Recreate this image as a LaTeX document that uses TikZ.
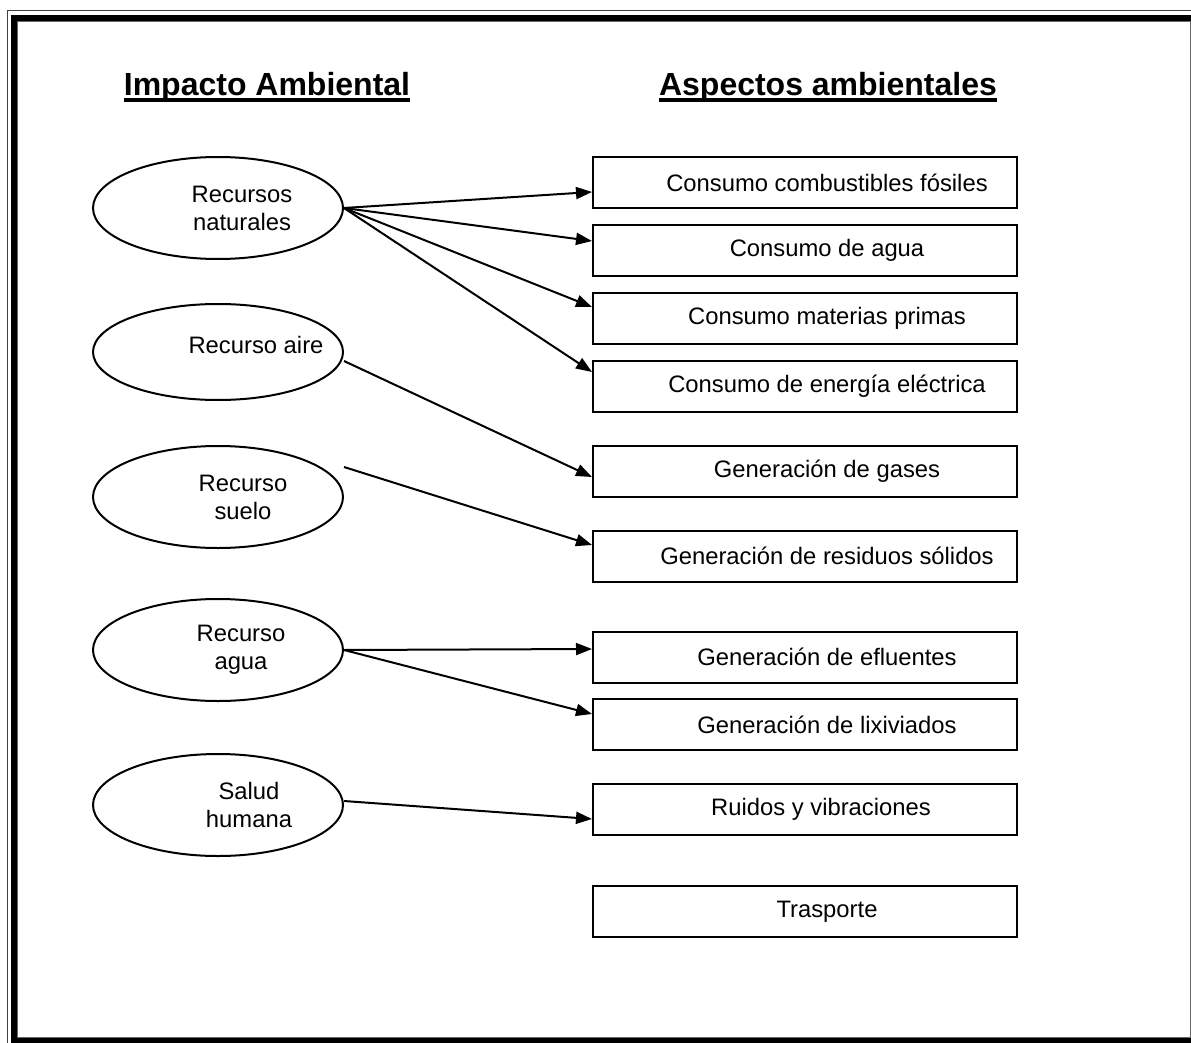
\documentclass[tikz,border=0pt]{standalone}
\usepackage{fontspec}
\setmainfont{Liberation Sans}
\usetikzlibrary{arrows.meta,shapes.geometric}
\tikzset{
  impact/.style={draw, line width=2pt, ellipse, minimum width=250pt, minimum height=102pt, inner sep=0pt},
  aspect/.style={draw, line width=2pt, rectangle, minimum width=424pt, minimum height=51pt, inner sep=0pt},
  txt/.style={font=\fontsize{23.8}{28}\selectfont, align=center, inner sep=0pt},
  head/.style={font=\fontsize{32}{38}\selectfont\bfseries, inner sep=0pt, anchor=base},
  link/.style={line width=2pt, -{Triangle[length=16pt,width=12pt]}}
}
\begin{document}
\begin{tikzpicture}[x=1pt,y=-1pt]
\useasboundingbox (0,0) rectangle (1191,1043);
\clip (0,0) rectangle (1191,1043);
\fill[white] (0,0) rectangle (1191,1043);
% page border
\draw[line width=1.5pt, black!75] (7.5,10.5) rectangle (1230,1080);
\draw[line width=6pt] (14,18) rectangle (1194,1041);
\draw[line width=1pt, black!60] (17.5,21.5) rectangle (1190,1037.5);

% headings
\node[head] (h1) at (267,96) {Impacto Ambiental};
\node[head] (h2) at (828,96) {Aspectos ambientales};
\draw[line width=3.5pt] ([yshift=-4pt]h1.base west) -- ([yshift=-4pt]h1.base east);
\draw[line width=3.5pt] ([yshift=-4pt]h2.base west) -- ([yshift=-4pt]h2.base east);

% impacts
\node[impact, label={[txt, xshift=24pt]center:Recursos\\naturales}] (e1) at (218,208) {};
\node[impact, minimum height=96pt, label={[txt, xshift=38pt, yshift=7pt]center:Recurso aire}] (e2) at (218,352) {};
\node[impact, label={[txt, xshift=25pt]center:Recurso\\suelo}] (e3) at (218,497) {};
\node[impact, label={[txt, xshift=23pt]center:Recurso\\agua}] (e4) at (218,650) {};
\node[impact, label={[txt, xshift=31pt]center:Salud\\humana}] (e5) at (218,805) {};

% aspects
\node[aspect, label={[txt, xshift=22pt]center:Consumo combustibles fósiles}] (b1) at (805,182.5) {};
\node[aspect, label={[txt, xshift=22pt]center:Consumo de agua}] (b2) at (805,250.5) {};
\node[aspect, label={[txt, xshift=22pt]center:Consumo materias primas}] (b3) at (805,318.5) {};
\node[aspect, label={[txt, xshift=22pt]center:Consumo de energía eléctrica}] (b4) at (805,386) {};
\node[aspect, label={[txt, xshift=22pt]center:Generación de gases}] (b5) at (805,471) {};
\node[aspect, label={[txt, xshift=22pt]center:Generación de residuos sólidos}] (b6) at (805,556) {};
\node[aspect, label={[txt, xshift=22pt]center:Generación de efluentes}] (b7) at (805,657) {};
\node[aspect, label={[txt, xshift=22pt]center:Generación de lixiviados}] (b8) at (805,724.5) {};
\node[aspect, label={[txt, xshift=16pt]center:Ruidos y vibraciones}] (b9) at (805,809.5) {};
\node[aspect, label={[txt, xshift=22pt]center:Trasporte}] (b10) at (805,911.5) {};

% connectors
\draw[link] (e1.east) -- ([yshift=-9.5pt]b1.west);
\draw[link] (e1.east) -- ([yshift=9.5pt]b2.west);
\draw[link] (e1.east) -- ([yshift=11.5pt]b3.west);
\draw[link] (e1.east) -- ([yshift=14pt]b4.west);
\draw[link] ([yshift=-9pt]e2.east) -- ([yshift=-6pt]b5.west);
\draw[link] ([yshift=30pt]e3.east) -- ([yshift=11pt]b6.west);
\draw[link] (e4.east) -- ([yshift=8pt]b7.west);
\draw[link] (e4.east) -- ([yshift=10.5pt]b8.west);
\draw[link] ([yshift=4pt]e5.east) -- ([yshift=-9.5pt]b9.west);
\end{tikzpicture}
\end{document}
